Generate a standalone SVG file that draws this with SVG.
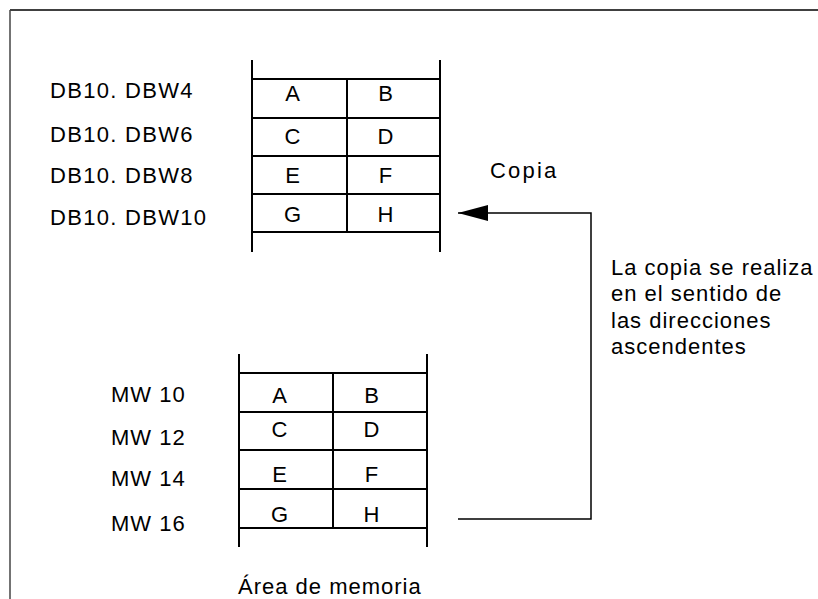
<svg xmlns="http://www.w3.org/2000/svg" width="818" height="599" viewBox="0 0 818 599">
<style>
text{font-family:"Liberation Sans",Arial,sans-serif;font-size:22px;fill:#000;letter-spacing:1px}
.c{text-anchor:middle}
.lb{letter-spacing:1.3px}
.cp{letter-spacing:2.2px}
.ln{stroke:#000;stroke-width:2;fill:none}
.bd{stroke:#000;stroke-width:1.5;fill:none}
.cn{stroke:#000;stroke-width:1.5;fill:none}
</style>
<defs>
<marker id="ah" viewBox="0 0 30 16" markerWidth="30" markerHeight="16" markerUnits="userSpaceOnUse" refX="30" refY="8" orient="auto">
<path d="M0,0 L30,8 L0,16 z" fill="#000"/>
</marker>
</defs>
<rect width="818" height="599" fill="#fff"/>
<g id="frame">
<path class="bd" d="M10,10 H818"/>
<path class="bd" stroke="#444" d="M10,10 V599" style="stroke:#444"/>
</g>
<g id="db-table">
<path class="ln" d="M252,60 V252 M440,60 V252 M347,79 V232 M252,79 H440 M252,118 H440 M252,156 H440 M252,194 H440 M252,232 H440"/>
<text x="293" y="101" class="c">A</text>
<text x="386" y="101" class="c">B</text>
<text x="293" y="144" class="c">C</text>
<text x="386" y="144" class="c">D</text>
<text x="293" y="183" class="c">E</text>
<text x="386" y="183" class="c">F</text>
<text x="293" y="222" class="c">G</text>
<text x="386" y="222" class="c">H</text>
</g>
<g id="db-labels">
<text x="50" y="98" class="lb">DB10. DBW4</text>
<text x="50" y="142" class="lb">DB10. DBW6</text>
<text x="50" y="183" class="lb">DB10. DBW8</text>
<text x="50" y="225" class="lb">DB10. DBW10</text>
</g>
<g id="mw-table">
<path class="ln" d="M239,354 V547 M427,354 V547 M333,373 V528 M239,373 H427 M239,412 H427 M239,450 H427 M239,489 H427 M239,528 H427"/>
<text x="280" y="403" class="c">A</text>
<text x="372" y="403" class="c">B</text>
<text x="280" y="437" class="c">C</text>
<text x="372" y="437" class="c">D</text>
<text x="280" y="482" class="c">E</text>
<text x="372" y="482" class="c">F</text>
<text x="280" y="522" class="c">G</text>
<text x="372" y="522" class="c">H</text>
</g>
<g id="mw-labels">
<text x="111" y="402">MW 10</text>
<text x="111" y="445">MW 12</text>
<text x="111" y="486">MW 14</text>
<text x="111" y="531">MW 16</text>
</g>
<g id="mem-label">
<text x="238" y="594">Área de memoria</text>
</g>
<g id="connectors">
<path class="cn" d="M458,519 H591 V213 H458" marker-end="url(#ah)"/>
</g>
<g id="copy-label">
<text x="490" y="178" class="cp">Copia</text>
</g>
<g id="note">
<text x="611" y="275">La copia se realiza</text>
<text x="611" y="301">en el sentido de</text>
<text x="611" y="328">las direcciones</text>
<text x="611" y="354">ascendentes</text>
</g>
</svg>
